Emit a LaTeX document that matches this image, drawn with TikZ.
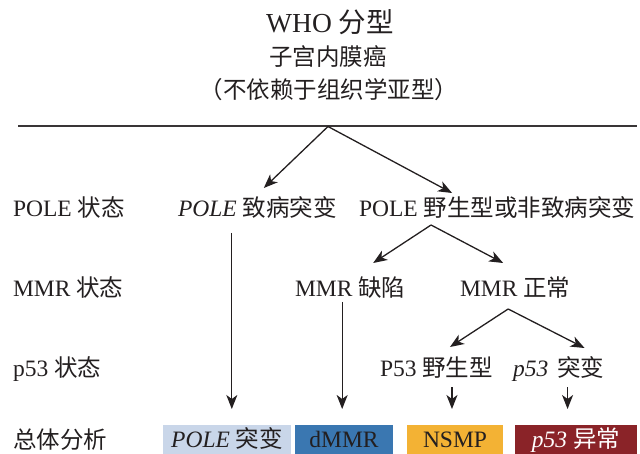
\documentclass[tikz,border=0pt]{standalone}
\usepackage{fontspec}
\setmainfont{Liberation Serif}
\newfontfamily\cjk{Noto Sans CJK SC}
\usetikzlibrary{arrows.meta,calc}
\definecolor{txt}{HTML}{231F20}
\definecolor{boxA}{HTML}{C9D6E9}
\definecolor{boxB}{HTML}{3A77B1}
\definecolor{boxC}{HTML}{F3B234}
\definecolor{boxD}{HTML}{8A2328}
\newcommand\zh[1]{{\cjk #1}}
\begin{document}
\begin{tikzpicture}[x=1pt,y=-1pt,
  lbl/.style={inner sep=0pt, outer sep=0pt, text=txt, font=\fontsize{23.5}{28}\selectfont, text height=18pt, text depth=5pt},
  arr/.style={draw=txt, line width=1.3pt, -{Stealth[length=14pt,width=11pt,inset=4pt]}},
  res/.style={lbl, minimum height=29pt, anchor=north west, text height=19pt, text depth=4pt}
]
\useasboundingbox (0,0) rectangle (640,454);
% title
\node[lbl, anchor=base, font=\fontsize{27.5}{32}\selectfont] (title) at (330,33) {WHO \zh{分型}};
\node[lbl, anchor=base] (sub1) at (328,66) {\zh{子宫内膜癌}};
\node[lbl, anchor=base] (sub2) at (329,99) {\zh{（不依赖于组织学亚型）}};
\coordinate (hl) at (18,125.7);
\coordinate (hr) at (637,125.7);
\draw[line width=1.8pt, draw=txt!90] (hl) -- (hr);
\coordinate (apex1) at (328,126.5);
% left labels
\node[lbl, anchor=base west] (lpole) at (13,217) {POLE \zh{状态}};
\node[lbl, anchor=base west] (lmmr) at (13,297) {MMR \zh{状态}};
\node[lbl, anchor=base west] (lp53) at (13,376) {p53 \zh{状态}};
\node[lbl, anchor=base west] (lall) at (13,448) {\zh{总体分析}};
% row 1
\node[lbl, anchor=base west] (pole1) at (178,217) {\textit{POLE} \zh{致病突变}};
\node[lbl, anchor=base west] (pole2) at (359,217) {POLE \zh{野生型或非致病突变}};
% row 2
\node[lbl, anchor=base west] (mmrd) at (295,297) {MMR \zh{缺陷}};
\node[lbl, anchor=base west] (mmrn) at (460,297) {MMR \zh{正常}};
% row 3
\node[lbl, anchor=base west] (p53w) at (380,376) {P53 \zh{野生型}};
\node[lbl, anchor=base west] (p53m) at (513,376) {\textit{p53}\hspace{3pt} \zh{突变}};
% result boxes
\node[res, fill=boxA, minimum width=128pt] (b1) at (163,425) {\textit{POLE} \zh{突变}};
\node[res, fill=boxB, minimum width=98pt] (b2) at (295,425) {dMMR};
\node[res, fill=boxC, minimum width=96pt] (b3) at (407,425) {NSMP};
\node[res, fill=boxD, minimum width=122pt, text=white] (b4) at (515,425) {\textit{p53} \zh{异常}};
% arrows
\draw[arr] (apex1) -- ([xshift=6.5pt,yshift=11pt]pole1.north);
\draw[arr] (apex1) -- ([xshift=-45pt,yshift=6pt]pole2.north);
\coordinate (apex2) at ([xshift=-66pt,yshift=-3pt]pole2.south);
\draw[arr] (apex2) -- ([xshift=23pt,yshift=16pt]mmrd.north);
\draw[arr] (apex2) -- ([xshift=-12pt,yshift=16pt]mmrn.north);
\coordinate (apex3) at ([xshift=-7pt,yshift=-7pt]mmrn.south);
\draw[arr] (apex3) -- ([xshift=13.5pt,yshift=11pt]p53w.north);
\draw[arr] (apex3) -- ([xshift=26pt,yshift=10pt]p53m.north);
\coordinate (v1) at ([xshift=-25.5pt,yshift=-11pt]pole1.south);
\coordinate (v2) at ([xshift=-8pt]mmrd.south);
\coordinate (v3) at ([xshift=15.5pt,yshift=-6pt]p53w.south);
\coordinate (v4) at ([xshift=9pt,yshift=-6pt]p53m.south);
\draw[arr, shorten >=16pt] (v1) -- (v1 |- b1.north);
\draw[arr, shorten >=16pt] (v2) -- (v2 |- b2.north);
\draw[arr, shorten >=16pt] (v3) -- (v3 |- b3.north);
\draw[arr, shorten >=16pt] (v4) -- (v4 |- b4.north);
\end{tikzpicture}
\end{document}
